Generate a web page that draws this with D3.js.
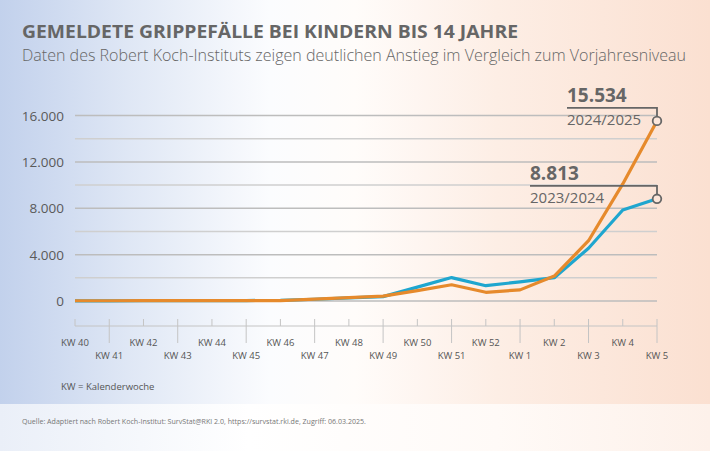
<!DOCTYPE html>
<html><head><meta charset="utf-8">
<script src="https://cdn.jsdelivr.net/npm/d3@7"></script>
<style>
html,body{margin:0;padding:0;background:#fff;}
svg{display:block;font-family:"Open Sans",sans-serif;}
</style></head>
<body><svg id="c" width="710" height="451"></svg>
<script>
const weeks = ["KW 40","KW 41","KW 42","KW 43","KW 44","KW 45","KW 46","KW 47","KW 48","KW 49","KW 50","KW 51","KW 52","KW 1","KW 2","KW 3","KW 4","KW 5"];
const season2324 = [15,18,20,25,30,40,60,150,270,380,1200,2020,1320,1650,2010,4550,7850,8813];
const season2425 = [20,22,25,28,30,35,40,160,290,420,900,1400,750,960,2150,5200,10100,15534];
const majorTicks = [0,4000,8000,12000,16000];
const minorTicks = [2000,6000,10000,14000];
const seriesNames = ["2023/2024","2024/2025"];
const title = "GEMELDETE GRIPPEFÄLLE BEI KINDERN BIS 14 JAHRE";
const subtitle = "Daten des Robert Koch-Instituts zeigen deutlichen Anstieg im Vergleich zum Vorjahresniveau";
const note = "KW = Kalenderwoche";
const source = "Quelle: Adaptiert nach Robert Koch-Institut: SurvStat@RKI 2.0, https://survstat.rki.de, Zugriff: 06.03.2025.";

const svg = d3.select("#c");
const W = 710, H = 451;
const de = d3.formatLocale({decimal:",", thousands:".", grouping:[3], currency:["","€"]});
const fmt = de.format(",");

// background gradients
const defs = svg.append("defs");
const g1 = defs.append("linearGradient").attr("id","bg").attr("x1","0").attr("x2","1").attr("y1","0").attr("y2","0");
[[0,"#c2d1ec"],[0.18,"#dfe7f5"],[0.38,"#fbfcfe"],[0.5,"#fffcfa"],[0.7,"#fdeee5"],[1,"#fbe0d1"]].forEach(s=>g1.append("stop").attr("offset",s[0]).attr("stop-color",s[1]));
const g2 = defs.append("linearGradient").attr("id","bg2").attr("x1","0").attr("x2","1").attr("y1","0").attr("y2","0");
[[0,"#eaeff8"],[0.35,"#ffffff"],[0.7,"#fffaf7"],[1,"#fdf1ea"]].forEach(s=>g2.append("stop").attr("offset",s[0]).attr("stop-color",s[1]));
svg.append("rect").attr("width",W).attr("height",404).attr("fill","url(#bg)");
svg.append("rect").attr("y",404).attr("width",W).attr("height",H-404).attr("fill","url(#bg2)");

// titles
svg.append("text").attr("x",22).attr("y",38).attr("font-size",18.5).attr("font-weight",700)
  .attr("fill","#666").attr("textLength",496).attr("lengthAdjust","spacingAndGlyphs").text(title);
svg.append("text").attr("x",22).attr("y",61).attr("font-size",16).attr("font-weight",300)
  .attr("fill","#666").attr("textLength",664).attr("lengthAdjust","spacingAndGlyphs").text(subtitle);

// scales
const x = d3.scalePoint().domain(weeks).range([75,657]);
const y = d3.scaleLinear().domain([0,16000]).range([301,115.5]);

// gridlines
svg.append("g").selectAll("line").data(minorTicks).join("line")
  .attr("x1",75).attr("x2",657).attr("y1",d=>y(d)).attr("y2",d=>y(d))
  .attr("stroke","#cfcfcf").attr("stroke-width",1.4);
svg.append("g").selectAll("line").data(majorTicks).join("line")
  .attr("x1",75).attr("x2",657).attr("y1",d=>y(d)).attr("y2",d=>y(d))
  .attr("stroke","#bdbdbd").attr("stroke-width",1.5);
svg.append("g").selectAll("text").data(majorTicks).join("text")
  .attr("x",64).attr("y",d=>y(d)+5).attr("text-anchor","end")
  .attr("font-size",13.5).attr("fill","#5a5a5a").text(d=>fmt(d));

// x axis
const ax = svg.append("g");
ax.append("line").attr("x1",75).attr("x2",657).attr("y1",326).attr("y2",326).attr("stroke","#c4c4c4").attr("stroke-width",1);
ax.selectAll("line.t").data(weeks).join("line").attr("class","t")
  .attr("x1",d=>x(d)).attr("x2",d=>x(d)).attr("y1",319)
  .attr("y2",(d,i)=> i%2===0 ? 326 : 343)
  .attr("stroke","#c4c4c4").attr("stroke-width",1);
ax.selectAll("text").data(weeks).join("text")
  .attr("x",d=>x(d)).attr("y",(d,i)=> i%2===0 ? 345.5 : 359)
  .attr("text-anchor","middle").attr("font-size",9.5).attr("fill","#555").text(d=>d);

// lines
const line = d3.line().x((d,i)=>x(weeks[i])).y(d=>y(d)).curve(d3.curveLinear);
svg.append("path").datum(season2324).attr("d",line).attr("fill","none")
  .attr("stroke","#1fa6cf").attr("stroke-width",3.2).attr("stroke-linejoin","round");
svg.append("path").datum(season2425).attr("d",line).attr("fill","none")
  .attr("stroke","#e68a2c").attr("stroke-width",3.2).attr("stroke-linejoin","round");

// annotations
const anns = [
  {series:season2324, name:seriesNames[0], x0:530},
  {series:season2425, name:seriesNames[1], x0:567}
];
anns.forEach(a=>{
  const last = a.series.length-1;
  const px = x(weeks[last]), py = y(a.series[last]);
  const ly = py-13;
  const g = svg.append("g");
  g.append("path").attr("d",`M${a.x0},${ly}H${px}V${py-4.5}`).attr("fill","none")
    .attr("stroke","#666").attr("stroke-width",1.8);
  g.append("circle").attr("cx",px).attr("cy",py).attr("r",4.3).attr("fill","#fce6da")
    .attr("stroke","#666").attr("stroke-width",1.8);
  g.append("text").attr("x",a.x0).attr("y",ly-6).attr("font-size",19).attr("font-weight",700)
    .attr("fill","#666").text(fmt(a.series[last]));
  g.append("text").attr("x",a.x0).attr("y",py+4).attr("font-size",15)
    .attr("fill","#666").text(a.name);
});

// notes
svg.append("text").attr("x",61).attr("y",390).attr("font-size",9.5).attr("fill","#555").text(note);
svg.append("text").attr("x",22).attr("y",424).attr("font-size",7.3).attr("fill","#777")
  .attr("textLength",344).attr("lengthAdjust","spacingAndGlyphs").text(source);
</script></body></html>
